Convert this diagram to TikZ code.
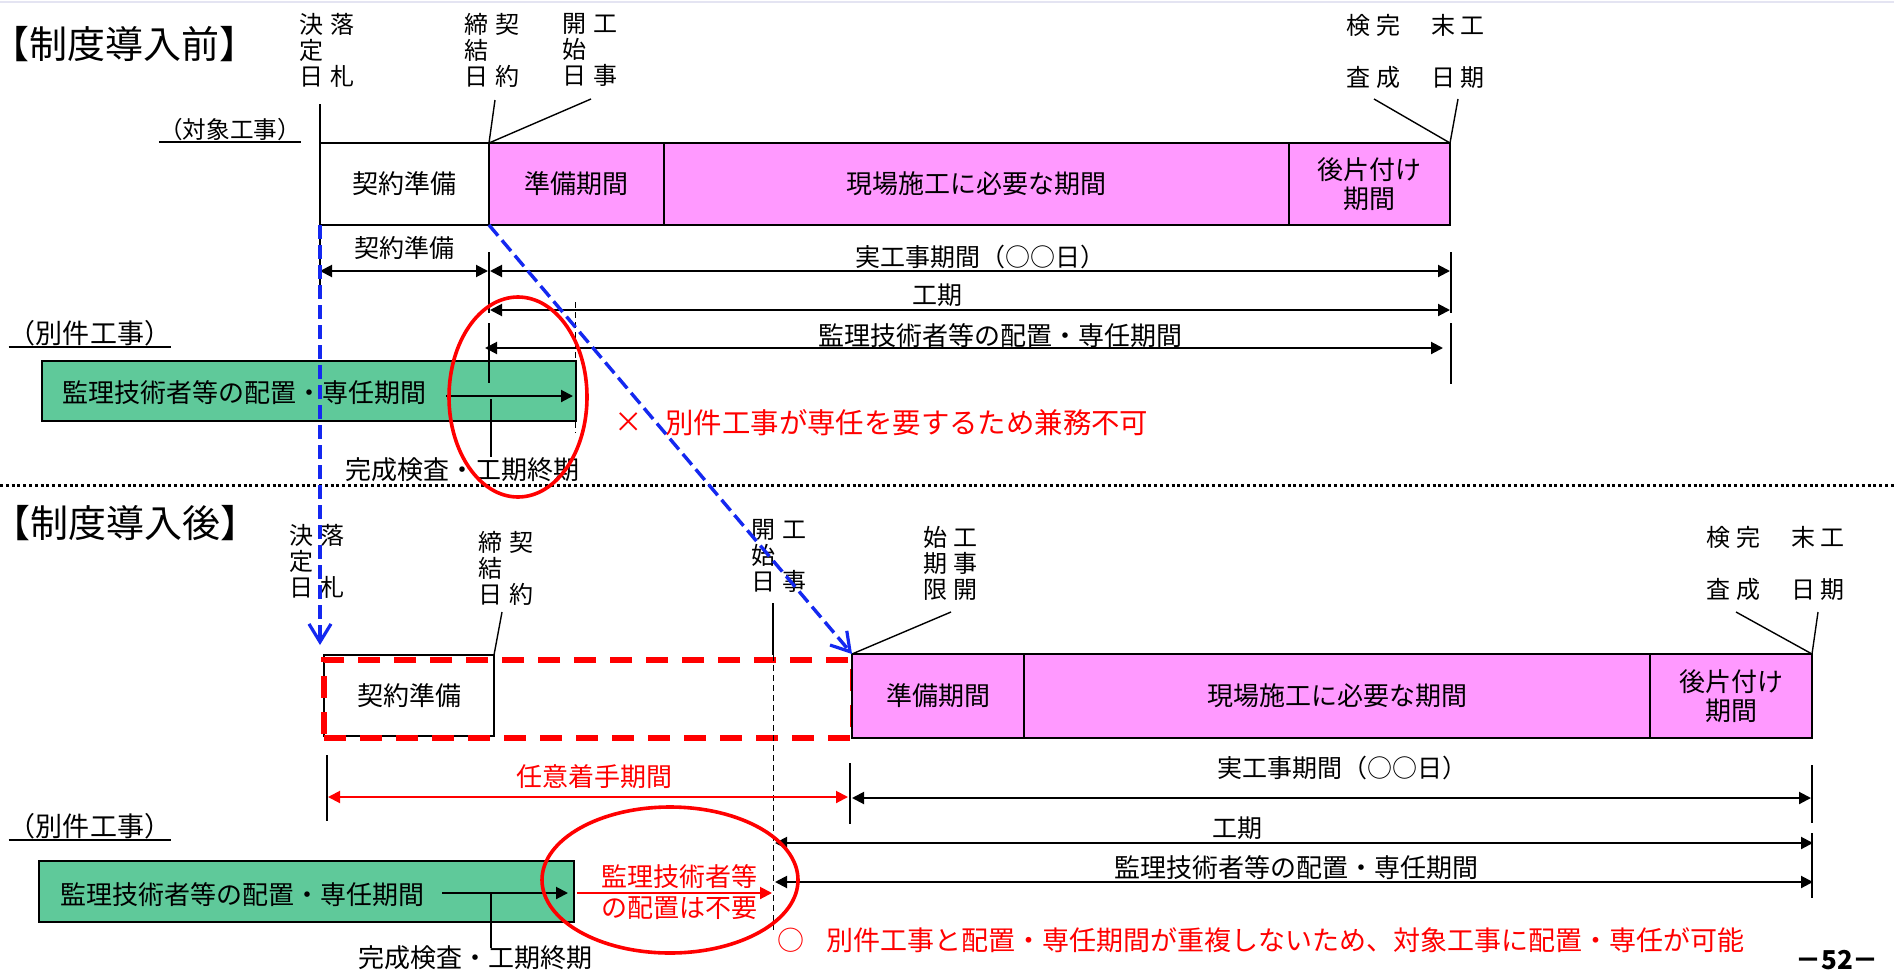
\documentclass[tikz,border=0pt]{standalone}
\usepackage{fontspec}
\setmainfont{Noto Sans CJK JP}
\usetikzlibrary{arrows.meta,shapes.geometric}
\definecolor{pinkfill}{RGB}{255,153,255}
\definecolor{greenfill}{RGB}{95,201,154}
\definecolor{myred}{RGB}{255,0,0}
\definecolor{myblue}{RGB}{20,40,240}
\definecolor{faint}{RGB}{228,228,242}
\newcommand{\myfs}[1]{\fontsize{#1}{#1}\selectfont}
\tikzset{
  lbl/.style={inner sep=0pt, font=\myfs{13pt}},
  vlab/.style={inner sep=0pt, align=left, font=\fontsize{12pt}{13pt}\selectfont},
  bx/.style={draw, line width=1.2pt, inner sep=0pt, outer sep=0pt, anchor=north west, font=\myfs{13pt}, align=center, fill=white},
  pinkbx/.style={bx, fill=pinkfill},
  greenbx/.style={bx, fill=greenfill},
  tk/.style={line width=1.2pt},
  leader/.style={line width=0.7pt},
  dimarr/.style={line width=1pt, {Triangle[length=6pt,width=6pt]}-{Triangle[length=6pt,width=6pt]}},
  onearr/.style={line width=1pt, -{Triangle[length=6pt,width=6pt]}},
  bluedash/.style={myblue, line width=1.7pt, dash pattern=on 7pt off 3pt, -{Straight Barb[length=9pt,width=11pt,line width=1.6pt]}},
  thindash/.style={line width=0.5pt, dash pattern=on 3pt off 2pt},
  redell/.style={draw=myred, ellipse, line width=1.8pt, inner sep=0pt},
}
\begin{document}
\begin{tikzpicture}[x=0.5pt,y=-0.5pt]
\useasboundingbox (0,0) rectangle (1894,969);
\fill[white] (0,0) rectangle (1894,969);
\draw[faint, line width=1pt] (0,1.5) -- (1894,1.5);

% titles
\node[lbl, font=\myfs{19pt}] (t1) at (124,44) {【制度導入前】};
\node[lbl, font=\myfs{19pt}] (t2) at (125,523) {【制度導入後】};

% ===== upper section =====
\node[vlab] (uraku) at (327,50) {決\hspace{3.5pt}落\\定\\日\hspace{3.5pt}札};
\node[vlab] (ukei) at (492,50) {締\hspace{3.5pt}契\\結\\日\hspace{3.5pt}約};
\node[vlab] (ukai) at (590,50) {開\hspace{3.5pt}工\\始\\日\hspace{3.5pt}事};
\node[vlab] (ukan) at (1415,51) {検\hspace{3pt}完\hspace{15.5pt}末\hspace{2.5pt}工\\[13pt]査\hspace{3pt}成\hspace{15.5pt}日\hspace{2.5pt}期};

\node[lbl, font=\myfs{11.8pt}] (taisho) at (230,130) {（対象工事）};
\draw[line width=0.9pt] (taisho.south west) -- (taisho.south east);

\node[bx, minimum width=84.5pt, minimum height=41pt] (kyb1) at (320,143) {契約準備};
\node[pinkbx, minimum width=87.5pt, minimum height=41pt] (jb1) at (489,143) {準備期間};
\node[pinkbx, minimum width=312.5pt, minimum height=41pt] (gb1) at (664,143) {現場施工に必要な期間};
\node[pinkbx, minimum width=80.5pt, minimum height=41pt, font=\fontsize{13pt}{14.5pt}\selectfont] (ab1) at (1289,143) {後片付け\\期間};

\coordinate (ur0) at (320,104);
\draw[tk] (ur0) -- (kyb1.north west);
\coordinate (uk0) at (495,100);
\draw[leader] (uk0) -- (kyb1.north east);
\coordinate (ua0) at (591,99);
\draw[leader] (ua0) -- (jb1.north west);
\coordinate (uc0) at (1374,99);
\coordinate (ue0) at (1458,99);
\draw[leader] (uc0) -- (ab1.north east);
\draw[leader] (ue0) -- (ab1.north east);

% upper dimension lines
\draw[tk] (320,226) -- (320,290);
\draw[tk] (489,252) -- (489,313) (489,323) -- (489,383);
\draw[tk] (1451,252) -- (1451,313) (1451,323) -- (1451,384);
\draw[dimarr] (320,271) -- (488,271);
\draw[dimarr] (490,271) -- (1450,271);
\draw[dimarr] (490,310) -- (1450,310);
\draw[dimarr] (485,348) -- (1443,348);

\node[lbl, font=\myfs{12.5pt}] (lk1) at (404,248) {契約準備};
\node[lbl, font=\myfs{12.5pt}] (lj1) at (980,257) {実工事期間（○○日）};
\node[lbl, font=\myfs{12.5pt}] (lg1) at (937,295) {工期};
\node[lbl] (lm1) at (1000,336) {監理技術者等の配置・専任期間};

% upper other work
\node[lbl, font=\myfs{13.5pt}] (betsu1) at (90,333) {（別件工事）};
\draw[line width=1pt] ([yshift=-0.5pt]betsu1.south west) -- ([yshift=-0.5pt]betsu1.south east);
\node[greenbx, minimum width=267pt, minimum height=30pt] (gbx1) at (42,361) {};
\node[lbl, anchor=west] (gt1) at (62,393) {監理技術者等の配置・専任期間};
\draw[tk] (489,323) -- (489,383);
\draw[onearr] (446,396) -- (573,396);
\draw[thindash] (575,302) -- (575,433);
\draw[leader, line width=1pt] (491,399) -- (491,457);
\node[lbl] (kan1) at (462,470) {完成検査・工期終期};

\node[lbl, font=\myfs{14.2pt}, text=myred] (x1) at (629,423) {×};
\node[lbl, font=\myfs{14.2pt}, text=myred, anchor=west] (ng1) at (665,423) {別件工事が専任を要するため兼務不可};

% separator
\draw[line width=1.5pt, dash pattern=on 1.5pt off 1.4pt] (0,485) -- (1894,485);

% ===== lower section =====
\node[vlab] (lraku) at (317,561) {決\hspace{3.5pt}落\\定\\日\hspace{3.5pt}札};
\node[vlab] (lkei) at (506,568) {締\hspace{3.5pt}契\\結\\日\hspace{3.5pt}約};
\node[vlab] (lkai) at (779,556) {開\hspace{3.5pt}工\\始\\日\hspace{3.5pt}事};
\node[vlab] (lshi) at (950,563) {始\hspace{3pt}工\\期\hspace{3pt}事\\限\hspace{3pt}開};
\node[vlab] (lkan) at (1775,563) {検\hspace{3pt}完\hspace{15.5pt}末\hspace{2.5pt}工\\[13pt]査\hspace{3pt}成\hspace{15.5pt}日\hspace{2.5pt}期};

\node[bx, minimum width=85pt, minimum height=40.5pt] (kyb2) at (324,655) {契約準備};
\node[draw=myred, line width=3pt, dash pattern=on 11pt off 7pt, anchor=north west, inner sep=0pt, minimum width=264.5pt, minimum height=39pt] (opt2) at (321,657) {};
\node[pinkbx, minimum width=86pt, minimum height=42pt] (jb2) at (852,654) {準備期間};
\node[pinkbx, minimum width=313pt, minimum height=42pt] (gb2) at (1024,654) {現場施工に必要な期間};
\node[pinkbx, minimum width=81pt, minimum height=42pt, font=\fontsize{13pt}{14.5pt}\selectfont] (ab2) at (1650,654) {後片付け\\期間};

\coordinate (lk0) at (502,612);
\draw[leader] (lk0) -- (kyb2.north east);
\coordinate (la0) at (773,603);
\coordinate (la1) at (773,655);
\coordinate (la2) at (773,930);
\draw[leader] (la0) -- (la1);
\draw[thindash] (la1) -- (la2);
\coordinate (ls0) at (951,612);
\draw[leader] (ls0) -- (jb2.north west);
\coordinate (lc0) at (1736,612);
\coordinate (le0) at (1818,612);
\draw[leader] (lc0) -- (ab2.north east);
\draw[leader] (le0) -- (ab2.north east);

% lower dimension lines
\draw[tk] (327,755) -- (327,821);
\draw[tk] (850,763) -- (850,824);
\draw[tk] (1812,765) -- (1812,823) (1812,833) -- (1812,898);
\draw[dimarr, myred] (328,797) -- (848,797);
\draw[dimarr] (852,798) -- (1811,798);
\draw[dimarr] (775,843) -- (1813,843);
\draw[dimarr] (775,882) -- (1813,882);

\node[lbl, text=myred] (nini) at (594,777) {任意着手期間};
\node[lbl, font=\myfs{12.5pt}] (lj2) at (1342,768) {実工事期間（○○日）};
\node[lbl, font=\myfs{12.5pt}] (lg2) at (1237,828) {工期};
\node[lbl] (lm2) at (1296,868) {監理技術者等の配置・専任期間};

\node[lbl, font=\myfs{13.5pt}] (betsu2) at (90,826) {（別件工事）};
\draw[line width=1pt] ([yshift=-0.5pt]betsu2.south west) -- ([yshift=-0.5pt]betsu2.south east);
\node[greenbx, minimum width=267.5pt, minimum height=30.5pt] (gbx2) at (39,861) {};
\node[lbl, anchor=west] (gt2) at (60,895) {監理技術者等の配置・専任期間};
\draw[onearr] (442,893) -- (568,893);
\draw[onearr, myred] (577,893) -- (772,893);
\draw[leader, line width=1pt] (491,893) -- (491,948);
\node[lbl] (kan2) at (475,958) {完成検査・工期終期};

\node[lbl, text=myred, align=center, font=\fontsize{13pt}{15.5pt}\selectfont] (fuyo) at (679,892) {監理技術者等\\の配置は不要};
\node[lbl, font=\myfs{13.5pt}, text=myred] (ok0) at (791,940) {○};
\node[lbl, font=\myfs{13.5pt}, text=myred, anchor=west] (ok1) at (826,940) {別件工事と配置・専任期間が重複しないため、対象工事に配置・専任が可能};
\node[lbl, font=\bfseries\myfs{13pt}] (page) at (1837,960) {－52－};

% blue dashed arrows
\coordinate (bv1) at (320,645);
\draw[bluedash] (kyb1.south west) -- (bv1);
\draw[bluedash] (kyb1.south east) -- (jb2.north west);

% red ellipses
\node[redell, minimum width=69pt, minimum height=100pt] (ell1) at (518,397) {};
\node[redell, minimum width=128pt, minimum height=73pt] (ell2) at (670,880) {};
\end{tikzpicture}
\end{document}
